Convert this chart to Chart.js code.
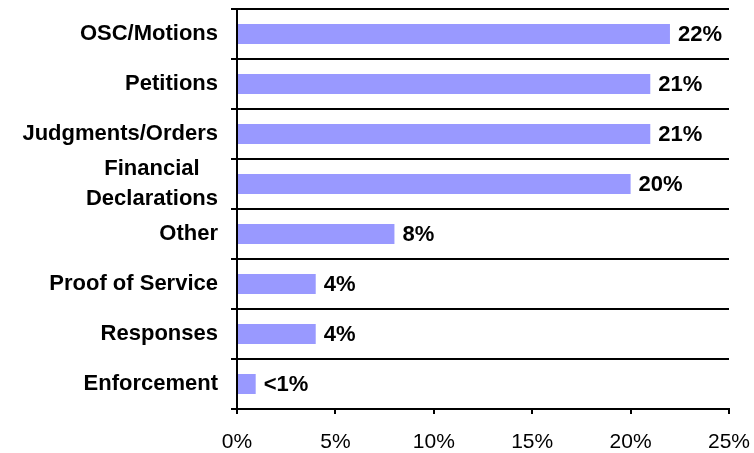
<!DOCTYPE html>
<html>
<head>
<meta charset="utf-8">
<script src="https://cdn.jsdelivr.net/npm/chart.js@4"></script>
<style>
  html, body { margin: 0; padding: 0; background: #fff; }
  #wrap { width: 754px; height: 453px; }
</style>
</head>
<body>
<div id="wrap"><canvas id="c" width="754" height="453"></canvas></div>
<script>
// Filing types and their share of all filings (%)
const categories = [
  'OSC/Motions',
  'Petitions',
  'Judgments/Orders',
  ['Financial', 'Declarations'],
  'Other',
  'Proof of Service',
  'Responses',
  'Enforcement'
];
const shares = [22, 21, 21, 20, 8, 4, 4, 0.95];
const shareLabels = ['22%', '21%', '21%', '20%', '8%', '4%', '4%', '<1%'];
const xTicks = [0, 5, 10, 15, 20, 25];

const FONT = "'Liberation Sans', Arial, Helvetica, sans-serif";
const Y_FONT = { family: FONT, size: 22, weight: 'bold', lineHeight: 1.36 };

// Two-line category names are centred on each other: pad the shorter
// lines on the right with non-breaking spaces so right alignment centres them.
function centreLines(label) {
  if (!Array.isArray(label)) return label;
  const ctx = document.createElement('canvas').getContext('2d');
  ctx.font = 'bold ' + Y_FONT.size + 'px ' + FONT;
  const widths = label.map(s => ctx.measureText(s).width);
  const maxW = Math.max(...widths);
  const sp = ctx.measureText('\u00a0').width;
  return label.map((s, i) => s + '\u00a0'.repeat(Math.round((maxW - widths[i]) / 2 / sp)));
}

// Writes each bar's percentage just past its end
const barValueLabels = {
  id: 'barValueLabels',
  afterDatasetsDraw(chart) {
    const ctx = chart.ctx;
    const meta = chart.getDatasetMeta(0);
    ctx.save();
    ctx.font = 'bold 22px ' + FONT;
    ctx.fillStyle = '#000';
    ctx.textAlign = 'left';
    ctx.textBaseline = 'middle';
    meta.data.forEach((bar, i) => {
      ctx.fillText(shareLabels[i], bar.x + 8, bar.y + 1);
    });
    ctx.restore();
  }
};

new Chart(document.getElementById('c'), {
  type: 'bar',
  data: {
    labels: categories,
    datasets: [{
      data: shares,
      backgroundColor: '#9999ff',
      borderWidth: 0,
      barPercentage: 0.4,
      categoryPercentage: 1.0
    }]
  },
  options: {
    indexAxis: 'y',
    responsive: false,
    animation: false,
    devicePixelRatio: 1,
    layout: { padding: { top: 9, right: 25, bottom: 0, left: 0 } },
    plugins: {
      legend: { display: false },
      tooltip: { enabled: false }
    },
    scales: {
      x: {
        min: 0,
        max: 25,
        afterBuildTicks(scale) {
          scale.ticks = xTicks.map(v => ({ value: v }));
        },
        afterFit(scale) {
          scale.height = 44;
          scale.paddingLeft = 0;
          scale.paddingRight = 0;
        },
        border: { display: true, color: '#000', width: 2 },
        grid: {
          drawOnChartArea: false,
          drawTicks: true,
          tickLength: 5,
          color: '#000',
          lineWidth: 2
        },
        ticks: {
          color: '#000',
          padding: 16,
          maxRotation: 0,
          autoSkip: false,
          font: { family: FONT, size: 21 },
          callback: v => v + '%'
        }
      },
      y: {
        afterFit(scale) {
          scale.width = 237;
          scale.paddingTop = 0;
          scale.paddingBottom = 0;
        },
        border: { display: true, color: '#000', width: 2 },
        grid: {
          offset: true,
          drawOnChartArea: true,
          drawTicks: true,
          tickLength: 6,
          color: '#000',
          lineWidth: 2
        },
        ticks: {
          color: '#000',
          padding: 13,
          autoSkip: false,
          font: Y_FONT,
          callback(value) { return centreLines(this.getLabelForValue(value)); }
        }
      }
    }
  },
  plugins: [barValueLabels]
});
</script>
</body>
</html>
